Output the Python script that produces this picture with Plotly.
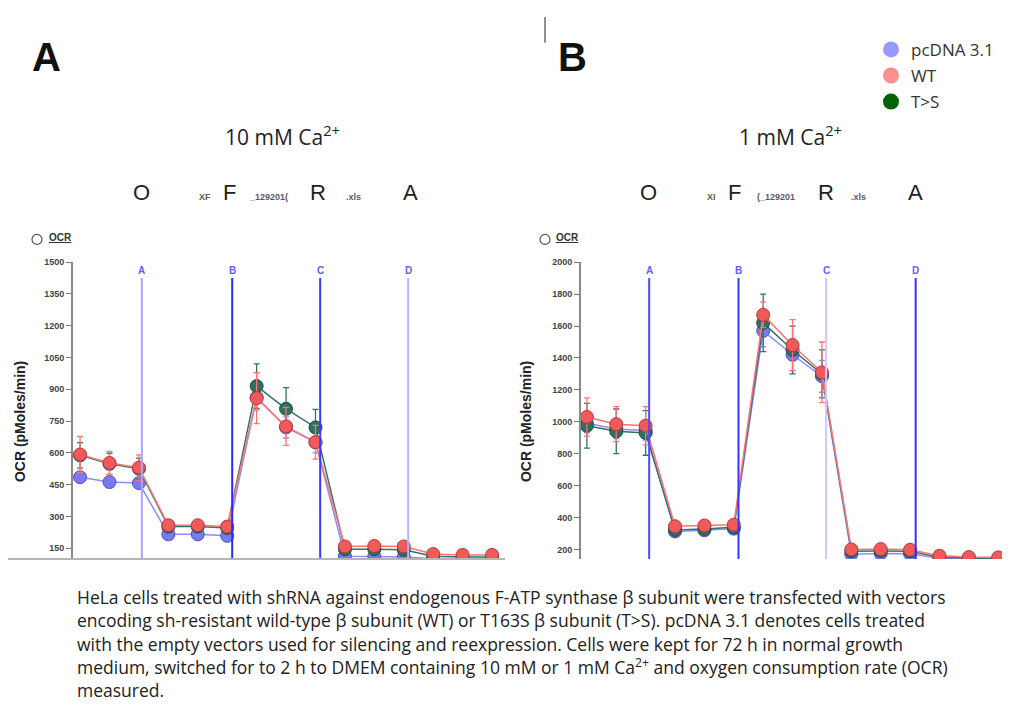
import plotly.graph_objects as go

W, H = 1010, 709
OFF = 8  # page body margin in the browser

# ---- data ----
measurements = list(range(1, 16))
series_names = ["pcDNA 3.1", "WT", "T>S"]

blue_A = [485, 462, 457, 215, 215, 208, 862, 720, 650, 112, 110, 108, 100, 98, 98]
red_A = [592, 552, 530, 258, 258, 252, 858, 725, 650, 158, 160, 158, 122, 118, 118]
green_A = [588, 548, 525, 252, 252, 245, 915, 808, 720, 145, 145, 142, 112, 108, 108]
blue_A_err = [20, 20, 20, 15, 15, 15, 60, 50, 50, 10, 10, 10, 8, 8, 8]
red_A_err = [85, 55, 60, 20, 20, 25, 120, 90, 80, 15, 15, 15, 10, 10, 10]
green_A_err = [60, 50, 50, 15, 15, 15, 105, 100, 85, 12, 12, 12, 10, 8, 8]

blue_B = [990, 955, 945, 312, 320, 330, 1570, 1420, 1285, 170, 175, 172, 145, 140, 138]
red_B = [1030, 985, 975, 345, 350, 355, 1670, 1480, 1310, 200, 202, 198, 160, 152, 150]
green_B = [975, 940, 930, 322, 328, 338, 1620, 1450, 1300, 188, 190, 188, 150, 145, 142]
blue_B_err = [60, 60, 60, 15, 15, 15, 100, 100, 100, 10, 10, 10, 8, 8, 8]
red_B_err = [120, 110, 120, 25, 25, 25, 80, 160, 190, 15, 15, 15, 10, 10, 10]
green_B_err = [140, 140, 140, 20, 20, 20, 180, 150, 150, 12, 12, 12, 10, 10, 10]

injection_labels = ["A", "B", "C", "D"]
injections_A = [3.10, 6.17, 9.16, 12.15]
injections_B = [3.12, 6.16, 9.14, 12.19]

ticks_A = [150, 300, 450, 600, 750, 900, 1050, 1200, 1350, 1500]
ticks_B = [200, 400, 600, 800, 1000, 1200, 1400, 1600, 1800, 2000]

caption_lines = [
    "HeLa cells treated with shRNA against endogenous F-ATP synthase \u03b2 subunit were transfected with vectors",
    "encoding sh-resistant wild-type \u03b2 subunit (WT) or T163S \u03b2 subunit (T>S). pcDNA 3.1 denotes cells treated",
    "with the empty vectors used for silencing and reexpression. Cells were kept for 72 h in normal growth",
    "medium, switched for to 2 h to DMEM containing 10 mM or 1 mM Ca<sup>2+</sup> and oxygen consumption rate (OCR)",
    "measured.",
]

# ---- style ----
line_col = {"pcDNA 3.1": "#8c8cff", "WT": "#ff7373", "T>S": "#2f7468"}
fill_col = {"pcDNA 3.1": "#7a7af0", "WT": "#f05a5a", "T>S": "#2f6e60"}
edge_col = {"pcDNA 3.1": "#5050c0", "WT": "#b83a3a", "T>S": "#1f4f45"}
legend_col = {"pcDNA 3.1": "#9999ff", "WT": "#ff8f8f", "T>S": "#006400"}
inj_col_A = ["#a6a6ff", "#2a2aff", "#3a3aff", "#b4b4ff"]
inj_col_B = ["#4a4aff", "#3535ff", "#cacaff", "#3030ff"]


def px(x):
    return (x - OFF) / W


def py(y):
    return 1 - (y - OFF) / H


fig = go.Figure()

panels = [
    ("x", "y", {"pcDNA 3.1": (blue_A, blue_A_err), "WT": (red_A, red_A_err), "T>S": (green_A, green_A_err)}),
    ("x2", "y2", {"pcDNA 3.1": (blue_B, blue_B_err), "WT": (red_B, red_B_err), "T>S": (green_B, green_B_err)}),
]
order = ["pcDNA 3.1", "T>S", "WT"]
for xa, ya, data in panels:
    for name in order:
        vals, err = data[name]
        fig.add_trace(go.Scatter(
            x=measurements, y=vals, xaxis=xa, yaxis=ya, mode="lines+markers",
            line=dict(color=line_col[name], width=1.5),
            marker=dict(size=13, color=fill_col[name], line=dict(color=edge_col[name], width=1)),
            error_y=dict(type="data", array=err, visible=True, color=line_col[name], thickness=1.3, width=3),
            showlegend=False, name=name,
        ))

# legend entries
for i, name in enumerate(series_names):
    fig.add_trace(go.Scatter(
        x=[None], y=[None], mode="markers", name=name, legendgroup=name,
        marker=dict(size=20, color=legend_col[name]), showlegend=True,
    ))

# ---- axes ----
yb, yt = py(558), py(259)
axis_common = dict(showgrid=False, zeroline=False)
tick_font = dict(family="Liberation Sans", size=9, color="#444")
fig.update_layout(
    xaxis=dict(domain=[px(73), px(505)], range=[0.76, 15.44], visible=False, **axis_common),
    yaxis=dict(domain=[yb, yt], range=[98, 1500], anchor="x", showline=True, linecolor="#8a8a8a",
               linewidth=2, ticks="outside", ticklen=5, tickcolor="#777", tickwidth=1,
               tickvals=ticks_A, ticktext=[f"<b>{t}</b>" for t in ticks_A],
               tickfont=tick_font, **axis_common),
    xaxis2=dict(domain=[px(581), px(1005)], range=[0.80, 15.23], visible=False, anchor="y2", **axis_common),
    yaxis2=dict(domain=[yb, yt], range=[139, 2000], anchor="x2", showline=True, linecolor="#8a8a8a",
                linewidth=2, ticks="outside", ticklen=5, tickcolor="#777", tickwidth=1,
                tickvals=ticks_B, ticktext=[f"<b>{t}</b>" for t in ticks_B],
                tickfont=tick_font, **axis_common),
)

shapes = []
annotations = []


def note(x, y, text, size, color="#222", family="Liberation Sans", **kw):
    d = dict(xref="paper", yref="paper", x=px(x), y=py(y), text=text, showarrow=False,
             xanchor="center", yanchor="middle", font=dict(family=family, size=size, color=color))
    d.update(kw)
    annotations.append(d)


# injection lines
for xref, injs, cols in [("x", injections_A, inj_col_A), ("x2", injections_B, inj_col_B)]:
    for lab, xv, c in zip(injection_labels, injs, cols):
        shapes.append(dict(type="line", xref=xref, yref="paper", x0=xv, x1=xv, y0=py(558), y1=py(275),
                           line=dict(color=c, width=2)))
        annotations.append(dict(xref=xref, yref="paper", x=xv, y=py(267), text=f"<b>{lab}</b>",
                                xanchor="center", yanchor="middle", showarrow=False,
                                font=dict(family="Liberation Sans", size=10, color="#6060ff")))

# bottom gray line panel A
shapes.append(dict(type="line", xref="paper", yref="paper", x0=px(8), x1=px(505), y0=py(558), y1=py(558),
                   line=dict(color="#b5b5b5", width=2)))
# small vertical divider
shapes.append(dict(type="line", xref="paper", yref="paper", x0=px(545), x1=px(545), y0=py(12), y1=py(38),
                   line=dict(color="#222", width=1)))

# OCR boxes
for cx, tx in [(37, 60), (545, 567)]:
    shapes.append(dict(type="circle", xref="paper", yref="paper", x0=px(cx - 5), x1=px(cx + 5),
                       y0=py(241), y1=py(231), line=dict(color="#555", width=1.2)))
    note(tx, 234, "<b><u>OCR</u></b>", 10, "#333")

# y titles
for xx in [20, 526]:
    note(xx, 420, "<b>OCR (pMoles/min)</b>", 14, "#222", textangle=-90)

# panel letters
note(46, 52, "<b>A</b>", 40, "#111")
note(572, 52, "<b>B</b>", 40, "#111")

# panel titles
note(282, 131, "10 mM Ca<sup>2+</sup>", 21, "#222", family="Open Sans")
note(790, 131, "1 mM Ca<sup>2+</sup>", 21, "#222", family="Open Sans")

# O F R A row
row_items_A = [(141, "O", 22, "#222"), (205, "XF", 9, "#6a5a40"), (229, "F", 22, "#222"),
               (268, "_129201(", 9, "#5a5a70"), (318, "R", 22, "#222"), (353, ".xls", 9, "#5a5a70"),
               (410, "A", 22, "#222")]
row_items_B = [(648, "O", 22, "#222"), (711, "XI", 9, "#6a5a40"), (734, "F", 22, "#222"),
               (776, "(_129201", 9, "#5a5a70"), (826, "R", 22, "#222"), (858, ".xls", 9, "#5a5a70"),
               (915, "A", 22, "#222")]
for xx, t, s, c in row_items_A + row_items_B:
    if s > 12:
        note(xx, 189, t, s, c)
    else:
        note(xx, 193, f"<b>{t}</b>", s, c)

# caption
for i, line in enumerate(caption_lines):
    note(75, 596 + i * 23.5, line, 17.5, "#222", family="Open Sans", xanchor="left")

fig.update_layout(
    width=W, height=H, margin=dict(l=0, r=0, t=0, b=0),
    paper_bgcolor="white", plot_bgcolor="white",
    shapes=shapes, annotations=annotations,
    legend=dict(x=px(871), y=py(27), xanchor="left", yanchor="top", bgcolor="rgba(0,0,0,0)",
                font=dict(family="Open Sans", size=17, color="#333"), itemsizing="trace",
                tracegroupgap=1),
)

fig.write_html("out.html")
